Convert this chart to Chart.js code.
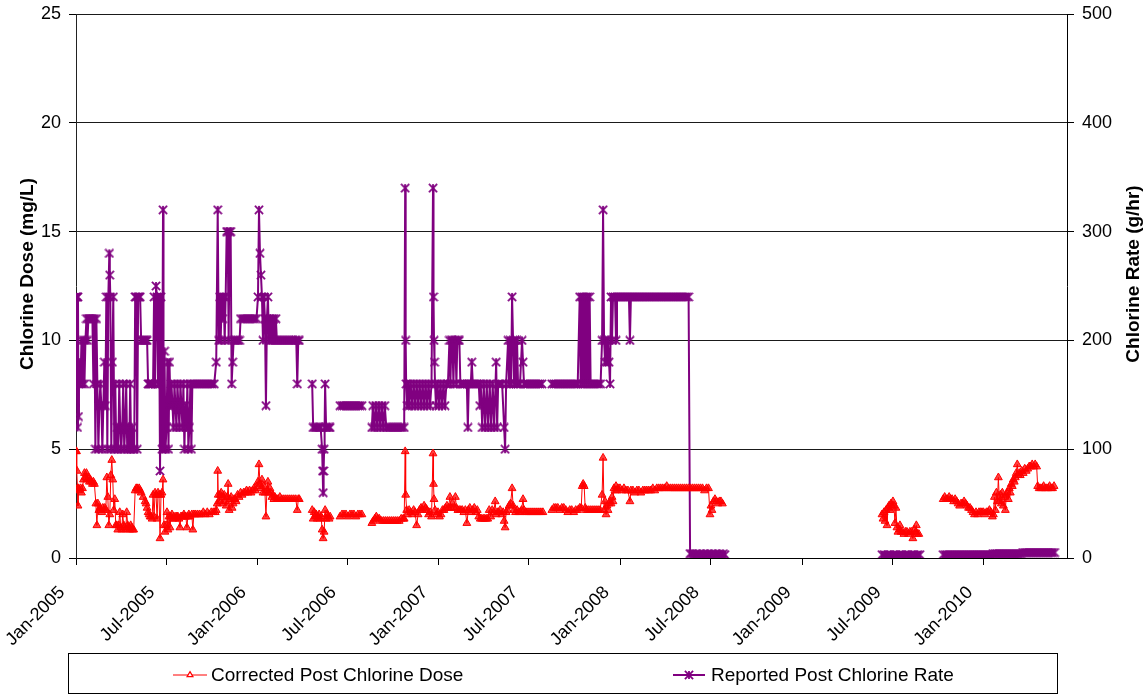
<!DOCTYPE html>
<html>
<head>
<meta charset="utf-8">
<script src="https://cdn.jsdelivr.net/npm/chart.js@4.4.1/dist/chart.umd.min.js"></script>
<style>
  html, body { margin: 0; padding: 0; background: #fff; }
  #wrap { width: 1147px; height: 695px; }
</style>
</head>
<body>
<div id="wrap"><canvas id="chart" width="1147" height="695"></canvas></div>
<script>
// Days are counted from 1 Jan 2005.
const tickDays = [0, 181, 365, 546, 730, 911, 1095, 1276, 1461, 1642, 1826];
const tickLabels = ['Jan-2005', 'Jul-2005', 'Jan-2006', 'Jul-2006', 'Jan-2007', 'Jul-2007',
                    'Jan-2008', 'Jul-2008', 'Jan-2009', 'Jul-2009', 'Jan-2010'];

const doseName = 'Corrected Post Chlorine Dose';
const rateName = 'Reported Post Chlorine Rate';
const doseAxisTitle = 'Chlorine Dose (mg/L)';
const rateAxisTitle = 'Chlorine Rate (g/hr)';

// [day, mg/L]; null marks a break in the record
const doseReadings = [
  [0,4.9],[1,4.9],[2,4.0],[3,3.2],[4,2.4],[5,3.2],[7,3.1],[9,3.2],[11,3.0],[13,3.2],[15,3.6],[17,3.9],[19,3.7],[21,3.9],[23,3.6],[25,3.7],[27,3.5],[29,3.6],[31,3.5],[33,3.4],[35,3.5],[37,3.4],
  [40,2.5],[42,1.5],[44,2.5],[46,2.2],[48,2.3],[50,2.2],[52,2.1],[54,2.3],[56,2.2],[58,2.3],[60,2.2],[62,3.7],[64,2.8],[66,1.5],[68,2.0],[70,3.8],[72,4.5],[74,3.6],[76,2.2],[78,2.7],
  [80,1.5],[82,1.5],[84,1.3],[86,1.5],[88,2.1],[90,1.4],[92,1.3],[94,2.0],[96,1.5],[98,1.4],[100,1.3],[102,2.1],[104,1.5],[106,1.4],[108,1.3],[110,1.5],[112,1.4],[114,1.3],[116,1.3],
  [119,3.1],[121,3.2],[123,3.2],[125,3.1],[127,3.2],[129,3.1],[131,3.0],[135,2.8],[139,2.6],[141,2.5],[143,2.3],[145,2.1],[147,2.0],[149,1.9],[151,1.9],[153,1.8],[155,2.9],[157,1.9],
  [159,3.0],[161,2.9],[163,1.8],[165,3.0],[167,2.9],[169,0.9],[171,2.9],[173,3.0],[175,3.6],[177,1.5],[179,1.2],[181,1.5],[183,2.1],[185,1.3],[187,1.9],[189,1.4],[191,1.9],[193,2.0],
  [195,1.8],[197,1.9],[199,1.8],[201,1.9],[203,1.9],[205,1.9],[207,1.8],[209,1.4],[211,1.9],[213,1.9],[215,1.9],[217,2.0],[219,1.9],[221,1.9],[223,1.4],[225,1.9],[227,2.0],[229,1.9],
  [233,2.0],[235,1.3],[237,2.0],[240,2.0],[244,2.0],[248,2.0],[252,2.0],[256,2.1],[260,2.0],[264,2.1],[268,2.0],[272,2.1],[276,2.1],[280,2.1],[282,2.2],[284,2.5],[285,4.0],[286,2.9],
  [288,2.6],[290,2.9],[292,3.0],[294,2.5],[296,2.8],[298,2.9],[300,2.6],[302,2.4],[304,2.8],[306,3.4],[308,2.2],[310,2.7],[312,2.8],[314,2.3],[316,2.5],[318,2.7],[320,2.7],[322,2.6],
  [325,2.9],[328,2.8],[331,3.0],[334,2.9],[337,3.0],[340,3.0],[343,3.1],[346,3.0],[349,3.1],[352,3.0],[355,3.1],[358,3.2],[361,3.1],[364,3.3],[366,3.5],[368,4.3],[370,3.4],[372,3.2],
  [374,3.6],[376,3.0],[378,3.3],[380,3.0],[382,1.9],[384,3.1],[386,3.5],[388,3.0],[390,3.2],[392,3.0],[394,2.8],[396,2.9],[398,2.7],[400,2.8],[403,2.7],[406,2.7],[410,2.8],[414,2.7],
  [418,2.7],[422,2.7],[426,2.7],[430,2.7],[434,2.7],[438,2.7],[442,2.7],[445,2.2],[447,2.7],[449,2.7],[455,null],
  [475,2.2],[477,1.8],[479,2.1],[481,1.9],[483,2.0],[485,1.8],[487,1.9],[489,2.0],[491,1.8],[493,1.9],[495,1.3],[497,0.9],[499,1.2],[501,2.2],[503,1.8],[505,2.0],[507,1.9],[509,1.8],[511,1.9],[520,null],
  [531,1.9],[535,2.0],[539,2.0],[543,2.0],[547,1.9],[551,2.0],[555,2.0],[559,2.0],[563,1.9],[567,2.0],[571,2.0],[575,2.0],[585,null],
  [595,1.6],[598,1.7],[601,1.8],[604,1.9],[607,1.8],[610,1.8],[614,1.7],[618,1.7],[622,1.7],[626,1.7],[630,1.7],[634,1.7],[638,1.7],[642,1.7],[646,1.7],[650,1.7],[654,1.8],[658,1.8],
  [660,1.8],[662,4.9],[663,2.9],[665,2.2],[667,2.0],[670,2.2],[673,2.1],[676,2.0],[679,2.2],[682,2.1],[685,1.5],[688,2.0],[691,2.2],[694,2.3],[697,2.2],[700,2.4],[703,2.3],[706,2.2],
  [709,2.0],[712,2.1],[715,1.9],[718,4.8],[719,3.4],[720,2.7],[722,2.2],[725,2.0],[728,2.1],[731,1.9],[734,2.0],[737,2.2],[740,2.2],[743,2.3],[746,2.4],[749,2.3],[752,2.8],[754,2.3],
  [757,2.5],[760,2.3],[763,2.8],[765,2.3],[768,2.2],[771,2.2],[774,2.2],[777,2.2],[780,2.1],[783,2.2],[786,1.6],[789,2.2],[792,2.3],[795,2.1],[798,2.2],[801,2.3],[804,2.1],[807,2.2],
  [810,1.9],[813,1.8],[816,1.8],[819,1.8],[822,1.8],[825,1.8],[828,1.8],[831,2.2],[834,1.9],[837,2.2],[840,2.1],[843,2.6],[845,2.0],[847,2.1],[850,2.1],[853,2.2],[856,2.0],[859,2.1],
  [861,1.7],[863,1.4],[865,2.1],[868,2.2],[871,2.4],[874,2.5],[877,3.2],[879,2.4],[881,2.2],[884,2.1],[887,2.2],[890,2.1],[893,2.1],[896,2.2],[899,2.7],[901,2.2],[904,2.1],[907,2.1],
  [911,2.1],[915,2.1],[919,2.1],[923,2.1],[927,2.1],[931,2.1],[935,2.1],[939,2.1],[945,null],
  [957,2.2],[961,2.3],[965,2.3],[969,2.3],[973,2.2],[977,2.3],[981,2.3],[985,2.2],[989,2.1],[993,2.2],[997,2.2],[1001,2.1],[1005,2.2],[1009,2.2],[1013,2.3],[1016,2.3],[1018,3.3],
  [1020,3.4],[1022,3.3],[1024,2.3],[1026,2.2],[1030,2.2],[1034,2.2],[1038,2.2],[1042,2.2],[1046,2.2],[1050,2.2],[1054,2.2],[1058,2.9],[1060,4.6],[1062,2.2],[1064,2.6],[1066,2.0],
  [1068,2.4],[1070,2.2],[1072,2.5],[1074,2.6],[1076,2.5],[1078,2.8],[1080,2.6],[1082,3.2],[1084,3.1],[1086,3.3],[1088,3.1],[1090,3.2],[1094,3.2],[1098,3.1],[1102,3.2],[1106,3.1],
  [1110,3.1],[1114,2.6],[1116,3.1],[1120,3.1],[1124,3.0],[1128,3.1],[1132,3.1],[1136,3.0],[1140,3.1],[1144,3.1],[1148,3.1],[1152,3.1],[1156,3.1],[1160,3.2],[1164,3.1],[1168,3.2],
  [1172,3.2],[1176,3.2],[1180,3.2],[1184,3.2],[1188,3.3],[1192,3.2],[1196,3.2],[1200,3.2],[1204,3.2],[1208,3.2],[1212,3.2],[1216,3.2],[1220,3.2],[1224,3.2],[1228,3.2],[1232,3.2],
  [1236,3.2],[1240,3.2],[1244,3.2],[1248,3.2],[1252,3.2],[1256,3.2],[1260,3.2],[1264,3.1],[1268,3.2],[1272,3.2],[1275,2.0],[1277,2.4],[1279,2.2],[1282,2.6],[1285,2.7],[1288,2.6],
  [1291,2.5],[1294,2.6],[1297,2.6],[1300,2.5],[1310,null],
  [1621,2.0],[1623,1.8],[1625,2.1],[1627,1.7],[1629,2.2],[1631,1.5],[1633,2.3],[1635,2.4],[1637,2.2],[1639,2.5],[1641,2.4],[1643,2.6],[1645,2.4],[1647,1.6],[1649,2.3],[1651,1.4],
  [1653,1.2],[1656,1.3],[1657,1.5],[1659,1.2],[1662,1.2],[1665,1.1],[1668,1.2],[1671,1.2],[1674,1.1],[1677,1.2],[1680,1.2],[1683,0.9],[1686,1.3],[1689,1.2],[1690,1.5],[1692,1.1],
  [1695,1.1],[1710,null],
  [1744,2.7],[1747,2.8],[1750,2.7],[1753,2.7],[1756,2.8],[1759,2.7],[1762,2.7],[1765,2.6],[1768,2.7],[1771,2.6],[1774,2.5],[1777,2.4],[1780,2.5],[1783,2.5],[1786,2.6],[1789,2.5],
  [1792,2.4],[1795,2.3],[1798,2.3],[1801,2.2],[1804,2.1],[1807,2.0],[1810,2.1],[1813,2.0],[1816,2.1],[1819,2.1],[1822,2.1],[1825,2.1],[1828,2.0],[1831,2.1],[1834,2.1],[1837,2.2],
  [1840,2.1],[1843,1.9],[1845,2.0],[1847,2.8],[1849,2.2],[1851,3.0],[1853,2.6],[1855,3.7],[1857,2.6],[1859,2.9],[1861,2.5],[1863,3.0],[1865,2.4],[1867,2.8],[1869,2.2],[1871,2.9],
  [1873,3.0],[1875,2.7],[1877,3.2],[1879,3.0],[1881,3.4],[1883,3.3],[1885,3.6],[1887,3.5],[1889,3.7],[1891,3.9],[1893,4.3],[1895,3.8],[1897,3.9],[1899,3.8],[1902,4.0],[1905,3.9],
  [1908,4.1],[1911,4.0],[1914,4.1],[1917,4.2],[1920,4.2],[1923,4.3],[1926,4.2],[1929,4.3],[1932,4.2],[1934,3.3],[1937,3.2],[1940,3.2],[1943,3.2],[1946,3.3],[1949,3.2],[1952,3.2],
  [1955,3.2],[1958,3.3],[1961,3.2],[1964,3.2],[1967,3.3]
];

// [day, g/hr]; null marks a break in the record
const rateReadings = [
  [0,240],[2,240],[3,120],[4,240],[5,130],[6,160],[8,180],[9,160],[11,200],[13,160],[15,200],[17,160],[19,200],[21,220],[23,200],[25,220],[27,220],[29,220],[31,220],[33,220],
  [35,160],[37,220],[39,100],[41,220],[43,160],[45,100],[47,140],[49,160],[51,140],[53,100],[55,140],[57,180],[59,140],[61,240],[63,100],[65,240],[67,280],[68,260],[69,240],
  [71,100],[73,180],[75,240],[77,100],[79,160],[81,100],[83,120],[85,100],[87,160],[89,120],[91,100],[93,120],[95,160],[97,100],[99,120],[101,160],[103,100],[105,120],[107,100],
  [109,160],[111,100],[113,120],[115,100],[117,100],[119,240],[121,240],[123,100],[125,240],[127,240],[129,240],[131,200],[133,200],[135,200],[137,200],[139,200],[141,200],[143,200],
  [145,160],[147,160],[149,160],[151,160],[153,160],[155,160],[157,240],[159,160],[161,250],[163,240],[165,160],[167,240],[169,80],[171,240],[173,100],[175,320],[176,100],[178,190],
  [180,100],[182,120],[184,180],[186,100],[188,180],[190,140],[192,160],[194,140],[196,120],[198,160],[200,140],[202,120],[204,160],[206,140],[208,120],[210,160],[212,140],[214,120],
  [216,160],[218,100],[220,140],[222,120],[224,160],[226,100],[228,120],[230,160],[232,100],[234,160],[238,160],[242,160],[246,160],[250,160],[254,160],[258,160],[262,160],[266,160],
  [270,160],[274,160],[278,160],[282,180],[285,320],[287,200],[289,240],[291,200],[293,240],[295,220],[297,240],[299,200],[301,240],[303,300],[305,300],[307,200],[309,300],[311,300],
  [313,160],[315,180],[317,200],[320,200],[323,200],[326,200],[329,200],[331,220],[335,220],[339,220],[343,220],[347,220],[351,220],[355,220],[359,220],[363,220],[366,240],[368,320],
  [370,280],[372,260],[374,240],[376,200],[378,240],[380,220],[382,140],[384,220],[386,240],[388,200],[390,220],[392,200],[394,220],[396,200],[398,220],[400,200],[402,220],[404,200],
  [408,200],[412,200],[416,200],[420,200],[424,200],[428,200],[432,200],[436,200],[440,200],[443,200],[445,160],[447,200],[449,200],[455,null],
  [475,160],[477,120],[480,120],[483,120],[486,120],[489,120],[492,120],[495,100],[496,80],[497,60],[498,80],[499,100],[500,120],[501,160],[503,120],[506,120],[509,120],[511,120],[520,null],
  [531,140],[535,140],[539,140],[543,140],[547,140],[551,140],[555,140],[559,140],[563,140],[567,140],[571,140],[575,140],[585,null],
  [595,120],[597,140],[600,120],[603,140],[606,120],[609,140],[612,120],[615,140],[618,120],[621,140],[624,120],[628,120],[632,120],[636,120],[640,120],[644,120],[648,120],[652,120],
  [656,120],[660,120],[662,340],[663,200],[664,160],[666,140],[668,160],[670,140],[673,160],[676,140],[679,160],[682,140],[685,160],[688,140],[691,160],[694,140],[697,160],[700,140],
  [703,160],[706,140],[709,160],[712,140],[715,160],[718,340],[719,240],[720,200],[721,180],[722,160],[724,140],[727,160],[730,140],[733,160],[736,140],[739,160],[742,140],[745,160],
  [748,160],[751,200],[753,160],[755,200],[757,200],[759,160],[761,200],[763,200],[765,160],[767,200],[769,200],[771,200],[773,160],[776,160],[779,160],[782,160],[786,160],[788,120],
  [790,160],[794,160],[796,180],[798,160],[802,160],[806,160],[810,160],[812,140],[814,160],[817,120],[820,160],[823,120],[826,160],[829,120],[832,160],[835,120],[838,160],[841,120],
  [845,180],[847,120],[849,160],[853,160],[857,160],[861,120],[863,100],[865,160],[869,200],[871,160],[873,200],[875,160],[877,240],[879,200],[881,160],[883,200],[885,160],[887,200],
  [889,160],[893,160],[897,200],[899,180],[901,160],[905,160],[909,160],[913,160],[917,160],[921,160],[925,160],[929,160],[933,160],[937,160],[945,null],
  [957,160],[961,160],[965,160],[969,160],[973,160],[977,160],[981,160],[985,160],[989,160],[993,160],[997,160],[1001,160],[1005,160],[1009,160],[1013,240],[1015,160],[1017,240],
  [1019,160],[1021,240],[1023,160],[1025,240],[1027,160],[1029,240],[1031,160],[1033,240],[1035,160],[1039,160],[1043,160],[1047,160],[1051,160],[1055,160],[1058,200],[1060,320],
  [1062,200],[1064,180],[1066,200],[1068,180],[1070,200],[1072,180],[1074,160],[1076,240],[1078,200],[1080,240],[1084,240],[1086,200],[1088,240],[1092,240],[1096,240],[1100,240],
  [1104,240],[1108,240],[1112,240],[1114,200],[1116,240],[1120,240],[1124,240],[1128,240],[1132,240],[1136,240],[1140,240],[1144,240],[1148,240],[1152,240],[1156,240],[1160,240],
  [1164,240],[1168,240],[1172,240],[1176,240],[1180,240],[1184,240],[1188,240],[1192,240],[1196,240],[1200,240],[1204,240],[1208,240],[1212,240],[1216,240],[1220,240],[1224,240],
  [1228,240],[1232,240],[1235,4],[1238,4],[1242,3],[1246,4],[1250,3],[1254,4],[1258,3],[1262,4],[1266,3],[1270,4],[1274,3],[1278,4],[1282,3],[1286,4],[1290,3],[1294,4],[1298,3],
  [1302,4],[1305,3],[1310,null],
  [1621,3],[1625,3],[1629,2],[1633,3],[1637,3],[1641,2],[1645,3],[1649,3],[1653,2],[1657,3],[1661,3],[1665,2],[1669,3],[1673,3],[1677,2],[1681,3],[1685,3],[1689,2],[1693,3],[1697,3],
  [1710,null],
  [1744,3],[1748,3],[1752,3],[1756,3],[1760,3],[1764,3],[1768,3],[1772,3],[1776,3],[1780,3],[1784,3],[1788,3],[1792,3],[1796,3],[1800,3],[1804,3],[1808,3],[1812,3],[1816,3],
  [1820,3],[1824,3],[1828,3],[1832,3],[1836,3],[1840,3],[1844,4],[1848,4],[1852,4],[1856,4],[1860,4],[1864,4],[1868,4],[1872,4],[1876,4],[1880,4],[1884,4],[1888,4],[1892,4],
  [1896,4],[1900,4],[1904,5],[1908,5],[1912,5],[1916,5],[1920,5],[1924,5],[1928,5],[1932,5],[1936,5],[1940,5],[1944,5],[1948,5],[1952,5],[1956,5],[1960,5],[1964,5],[1968,5]
];

const RED = '#ff0000';
const PURPLE = '#800080';
const FONT = '"Liberation Sans", Arial, Helvetica, sans-serif';

// Excel-style "star" marker: an X with a vertical stroke
function starMarker(size, color, lw) {
  const c = document.createElement('canvas');
  c.width = size; c.height = size;
  const g = c.getContext('2d');
  g.strokeStyle = color;
  g.lineWidth = lw;
  const a = lw / 2, b = size - lw / 2, m = size / 2;
  g.beginPath();
  g.moveTo(a, a); g.lineTo(b, b);
  g.moveTo(b, a); g.lineTo(a, b);
  g.moveTo(m, a); g.lineTo(m, b);
  g.stroke();
  return c;
}
const starImg = starMarker(10, PURPLE, 1.8);

// Axis titles and the boxed legend under the x-axis labels
const decorations = {
  id: 'decorations',
  afterDraw(chart) {
    const ctx = chart.ctx;
    ctx.save();
    ctx.fillStyle = '#000';
    ctx.font = 'bold 19px ' + FONT;
    ctx.textAlign = 'center';
    ctx.textBaseline = 'middle';
    [[28, doseAxisTitle], [1134, rateAxisTitle]].forEach(([x, t]) => {
      ctx.save();
      ctx.translate(x, 274);
      ctx.rotate(-Math.PI / 2);
      ctx.fillText(t, 0, 0);
      ctx.restore();
    });

    // legend frame
    ctx.strokeStyle = '#000';
    ctx.lineWidth = 1;
    ctx.strokeRect(68.5, 653.5, 989, 40);

    const y = 675;
    const items = [
      { ds: chart.data.datasets[0], x0: 173, x1: 207, tx: 211 },
      { ds: chart.data.datasets[1], x0: 673, x1: 705, tx: 711 }
    ];
    items.forEach(({ ds, x0, x1, tx }) => {
      ctx.strokeStyle = ds.borderColor;
      ctx.lineWidth = ds.borderWidth;
      ctx.beginPath();
      ctx.moveTo(x0, y); ctx.lineTo(x1, y);
      ctx.stroke();
      const cx = (x0 + x1) / 2;
      if (ds.pointStyle === 'triangle') {
        const r = 3.4;
        ctx.beginPath();
        ctx.moveTo(cx, y - r);
        ctx.lineTo(cx + r * 0.866, y + r / 2);
        ctx.lineTo(cx - r * 0.866, y + r / 2);
        ctx.closePath();
        ctx.fillStyle = '#fff';
        ctx.fill();
        ctx.lineWidth = 1.2;
        ctx.strokeStyle = ds.pointBorderColor;
        ctx.stroke();
      } else {
        ctx.drawImage(ds.pointStyle, cx - ds.pointStyle.width / 2, y - ds.pointStyle.height / 2);
      }
      ctx.fillStyle = '#000';
      ctx.font = '19px ' + FONT;
      ctx.textAlign = 'left';
      ctx.textBaseline = 'middle';
      ctx.fillText(ds.label, tx, y + 1);
    });
    ctx.restore();
  }
};

const tickFont = { family: FONT, size: 18 };
// compact line height keeps the top tick label from pushing the plot area down
const yTickFont = { family: FONT, size: 18, lineHeight: 0.6 };

new Chart(document.getElementById('chart'), {
  type: 'line',
  data: {
    datasets: [
      {
        label: doseName,
        yAxisID: 'y',
        data: doseReadings.map(([d, v]) => ({ x: d, y: v })),
        borderColor: RED,
        borderWidth: 1,
        pointStyle: 'triangle',
        pointRadius: 4.5,
        pointBorderWidth: 1,
        pointBorderColor: RED,
        pointBackgroundColor: 'rgba(255,0,0,0.75)',
        spanGaps: false,
        tension: 0
      },
      {
        label: rateName,
        yAxisID: 'y2',
        data: rateReadings.map(([d, v]) => ({ x: d, y: v })),
        borderColor: PURPLE,
        borderWidth: 2,
        pointStyle: starImg,
        pointRadius: 5,
        spanGaps: false,
        tension: 0
      }
    ]
  },
  options: {
    responsive: false,
    animation: false,
    devicePixelRatio: 1,
    layout: { padding: { top: 14, left: 0, right: 0, bottom: 0 } },
    plugins: { legend: { display: false }, tooltip: { enabled: false } },
    scales: {
      x: {
        type: 'linear',
        min: 0,
        max: 1993,
        afterBuildTicks: (axis) => { axis.ticks = tickDays.map(v => ({ value: v })); },
        afterFit: (axis) => { axis.height = 137; },
        ticks: {
          autoSkip: false,
          minRotation: 45,
          maxRotation: 45,
          padding: 17,
          labelOffset: -14,
          color: '#000',
          font: tickFont,
          callback: (v, i) => tickLabels[i]
        },
        grid: { drawOnChartArea: false, drawTicks: true, tickLength: 7, tickColor: '#000' },
        border: { display: true, color: '#000', width: 1 }
      },
      y: {
        position: 'left',
        min: 0,
        max: 25,
        afterFit: (axis) => { axis.width = 76; },
        ticks: { stepSize: 5, padding: 8, color: '#000', font: yTickFont },
        grid: { color: '#1a1a1a', lineWidth: 1, tickLength: 7, tickColor: '#000' },
        border: { display: true, color: '#222', width: 1 }
      },
      y2: {
        position: 'right',
        min: 0,
        max: 500,
        afterFit: (axis) => { axis.width = 80; },
        ticks: { stepSize: 100, padding: 8, color: '#000', font: yTickFont },
        grid: { drawOnChartArea: false, tickLength: 7, tickColor: '#000' },
        border: { display: true, color: '#000', width: 1 }
      }
    }
  },
  plugins: [decorations]
});
</script>
</body>
</html>
